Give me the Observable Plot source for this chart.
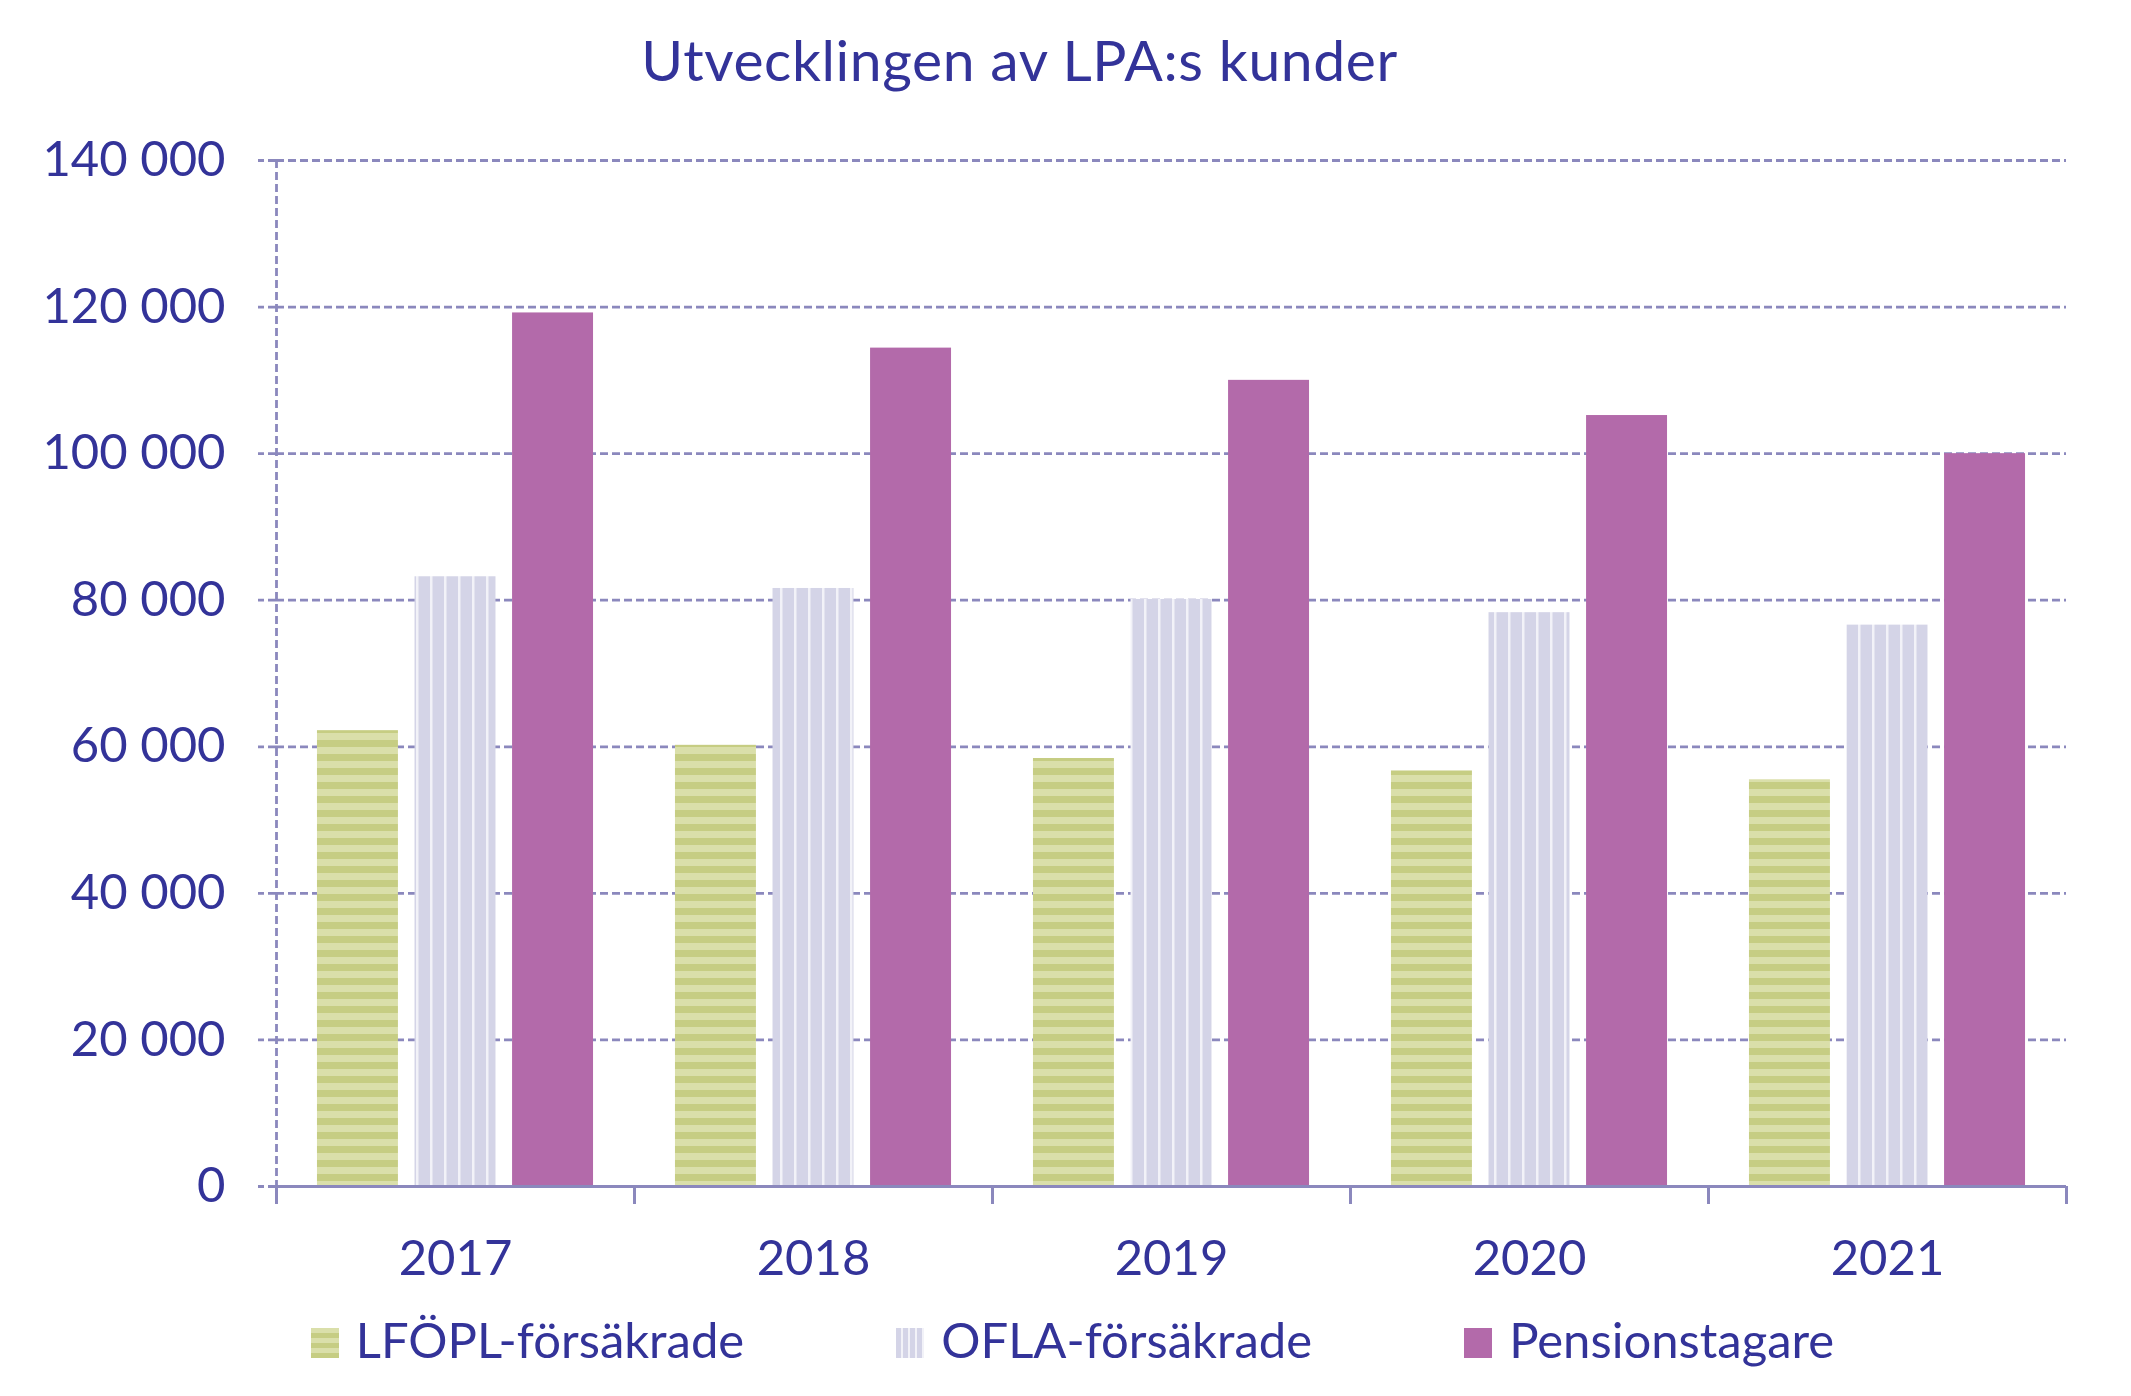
<!DOCTYPE html>
<html><head><meta charset="utf-8">
<script src="https://cdn.jsdelivr.net/npm/d3@7"></script>
<script src="https://cdn.jsdelivr.net/npm/@observablehq/plot@0.6"></script>
<style>
html,body{margin:0;padding:0;background:#fff;}
body{width:2131px;height:1396px;overflow:hidden;font-family:Lato,sans-serif;color:#333399;}
#title{box-sizing:border-box;height:110px;padding-top:25px;padding-right:92px;text-align:center;font-size:57px;letter-spacing:0.6px;line-height:1.2;white-space:nowrap;}
#chart svg{display:block;}
#legend{display:flex;justify-content:center;gap:152px;padding-top:20px;padding-left:14px;font-size:49px;line-height:1.2;white-space:nowrap;}
.sw{display:inline-block;width:28px;height:30px;margin-right:17px;}
</style></head>
<body>
<div id="title">Utvecklingen av LPA:s kunder</div>
<div id="chart"></div>
<div id="legend"></div>
<script>
const years = ["2017", "2018", "2019", "2020", "2021"];
const series = ["LFÖPL-försäkrade", "OFLA-försäkrade", "Pensionstagare"];
const lfopl = [62200, 60200, 58400, 56700, 55500];
const ofla = [83200, 81600, 80100, 78300, 76600];
const pension = [119200, 114400, 110000, 105200, 100000];
const yTicks = [0, 20000, 40000, 60000, 80000, 100000, 120000, 140000];

const colors = {green: "#C6CD83", greenLight: "#DADFAA", lav: "#D4D4E7", lavLine: "#F2F2F8", purple: "#B36AAA", grid: "#8B88BD", text: "#333399"};
const fills = {"LFÖPL-försäkrade": "url(#pg)", "OFLA-försäkrade": "url(#po)", "Pensionstagare": colors.purple};

const inner = d3.scaleBand().domain(series).range([0, 1]).paddingInner(0.17).paddingOuter(0.42);
const valuesBySeries = [lfopl, ofla, pension];
const rows = [];
years.forEach((yr, i) => {
  series.forEach((s, j) => {
    const x1 = i + inner(s);
    rows.push({year: yr, series: s, value: valuesBySeries[j][i], x1, x2: x1 + inner.bandwidth()});
  });
});

const fmt = d => d3.format(",")(d).replace(/,/g, " ");

const plot = Plot.plot({
  width: 2131, height: 1180,
  marginLeft: 276, marginRight: 65, marginTop: 50, marginBottom: 104,
  x: {domain: [0, years.length], axis: null, label: null},
  y: {domain: [0, 140000], axis: null, label: null},
  style: {fontFamily: "Lato, sans-serif", fontSize: "49px", color: colors.text, background: "white", overflow: "visible"},
  marks: [
    Plot.gridY({ticks: yTicks, stroke: colors.grid, strokeOpacity: 1, strokeWidth: 2.8, strokeDasharray: "8,4"}),
    Plot.axisY({ticks: yTicks, tickSize: 18, tickPadding: 33, stroke: colors.grid, strokeWidth: 2.8, strokeDasharray: "8,4", tickFormat: fmt, fill: colors.text, label: null}),
    Plot.ruleX([0], {stroke: colors.grid, strokeWidth: 2.8, strokeDasharray: "8,4"}),
    Plot.rectY(rows, {x1: "x1", x2: "x2", y: "value", fill: d => fills[d.series]}),
    Plot.ruleY([0], {stroke: colors.grid, strokeWidth: 3}),
    Plot.axisX({ticks: d3.range(years.length + 1), tickSize: 18, stroke: colors.grid, strokeWidth: 3, tickFormat: () => "", label: null}),
    Plot.axisX({ticks: years.map((d, i) => i + 0.5), tickSize: 0, tickPadding: 54, tickFormat: d => years[Math.floor(d)], fill: colors.text, label: null})
  ]
});
const svg = plot.tagName.toLowerCase() === "svg" ? plot : plot.querySelector("svg");
d3.select(svg).insert("defs", ":first-child").html(`
<pattern id="pg" patternUnits="userSpaceOnUse" width="14" height="14"><rect width="14" height="14" fill="${colors.greenLight}"/><rect width="14" height="7" fill="${colors.green}"/></pattern>
<pattern id="po" patternUnits="userSpaceOnUse" width="14" height="14"><rect width="14" height="14" fill="${colors.lav}"/><rect x="10" width="2.5" height="14" fill="${colors.lavLine}"/></pattern>`);
document.getElementById("chart").appendChild(plot);

const swatchCss = {
  "LFÖPL-försäkrade": `background:repeating-linear-gradient(to bottom, ${colors.greenLight} 0 5px, ${colors.green} 5px 10px);`,
  "OFLA-försäkrade": `background:repeating-linear-gradient(to right, ${colors.lav} 0 5px, ${colors.lavLine} 5px 7px);`,
  "Pensionstagare": `background:${colors.purple};`
};
const legend = document.getElementById("legend");
series.forEach(s => {
  const item = document.createElement("div");
  item.innerHTML = `<span class="sw" style="${swatchCss[s]}"></span>${s}`;
  legend.appendChild(item);
});
</script>
</body></html>
